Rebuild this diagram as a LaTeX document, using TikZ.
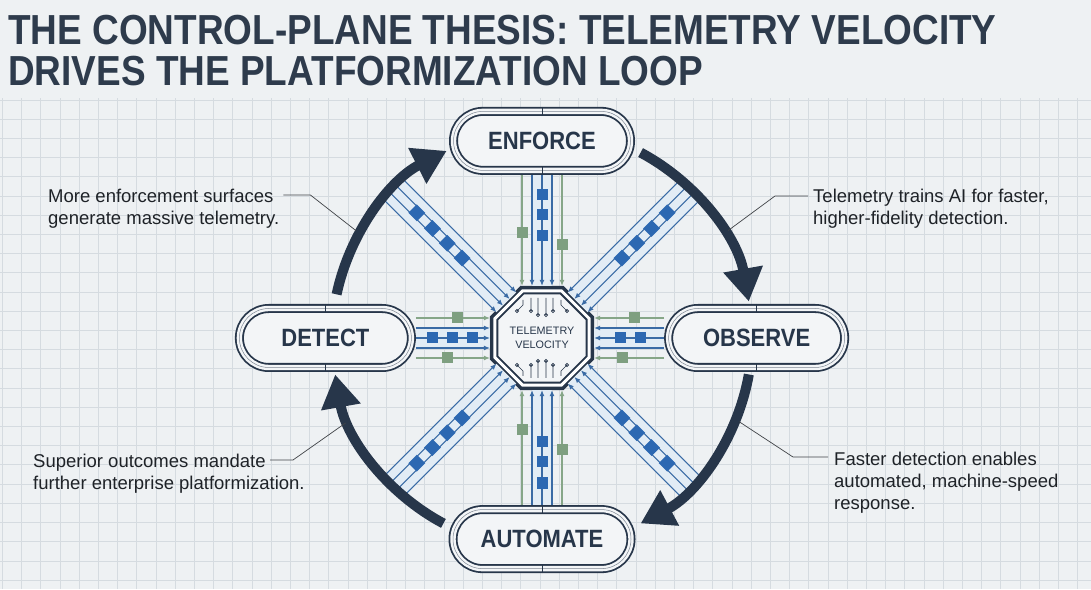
\documentclass[tikz,border=0pt]{standalone}
\usepackage{fontspec}
\setmainfont{Liberation Sans}
\newfontfamily\condfont[FakeStretch=0.88]{Liberation Sans}
\usetikzlibrary{positioning,calc,shapes.misc,shapes.geometric,arrows.meta}

\definecolor{bgcol}{HTML}{EEF1F3}
\definecolor{gridcol}{HTML}{D5DBE0}
\definecolor{ink}{HTML}{27364A}
\definecolor{titlecol}{HTML}{2E3B4C}
\definecolor{txtcol}{HTML}{1E2227}
\definecolor{spokeblue}{HTML}{3A6BA5}
\definecolor{sqblue}{HTML}{2C68B2}
\definecolor{sqgreen}{HTML}{7E9F80}
\definecolor{linegreen}{HTML}{86A688}
\definecolor{bandblue}{HTML}{E2ECF5}
\definecolor{pillfill}{HTML}{F3F5F7}

\begin{document}
\begin{tikzpicture}[x=1pt, y=1pt, >={Latex[length=6pt,width=5pt]},
    every node/.style={font=\fontsize{18.5}{22}\selectfont, text=txtcol},
    pill/.style={rounded rectangle, minimum height=59pt, inner sep=0pt, outer sep=4.5pt,
        draw=ink!60, line width=0.5pt,
        preaction={fill=pillfill},
        preaction={draw=ink, line width=9pt},
        preaction={draw=pillfill, line width=5.4pt},
        text=ink, font=\condfont\bfseries\fontsize{25}{28}\selectfont},
    hubbox/.style={regular polygon, regular polygon sides=8, minimum size=97pt,
        inner sep=1pt, outer sep=5pt, fill=pillfill, draw=ink, line width=2pt,
        double=white, double distance=3pt, preaction={draw=ink, line width=10pt},
        align=center, text=ink, font=\fontsize{10.8}{13.5}\selectfont},
    wire/.style={draw=spokeblue, line width=1.1pt, ->},
    gwire/.style={draw=linegreen, line width=1.1pt, ->},
    band/.style={fill=bandblue},
    bpkt/.style={fill=sqblue},
    gpkt/.style={fill=sqgreen},
    cyclearc/.style={draw=ink, line width=10pt, -{Triangle[length=33pt,width=38pt]}},
    leader/.style={draw=txtcol!85, line width=0.7pt},
    note/.style={align=left, anchor=north west, inner sep=0pt}]

  % Background and grid
  \useasboundingbox (0,0) rectangle (1091,589);
  \fill[bgcol] (0,0) rectangle (1091,589);
  \begin{scope}[shift={(2.3,9)}]
    \draw[gridcol, line width=0.6pt, step=19.2] (-2.3,-9) grid (1088.7,482);
  \end{scope}

  % Title
  \node[anchor=north west, inner sep=0pt, align=left, text=titlecol,
        font=\condfont\bfseries\fontsize{42}{41}\selectfont] (title) at (8,574)
        {THE CONTROL-PLANE THESIS: TELEMETRY VELOCITY\\DRIVES THE PLATFORMIZATION LOOP};

  % Hub
  \node[hubbox] (hub) at (542,251) {TELEMETRY\\VELOCITY};

  % circuit traces inside the hub
  \begin{scope}[shift={(hub.center)}, ink, line width=0.6pt]
    \foreach \s in {1,-1}{
      \foreach \dx/\len in {-11/13, -4/17, 4/17, 11/13}
        \draw (\dx,40*\s) -- (\dx,{(40-\len)*\s}) circle[radius=1.6];
      \draw (-19,38*\s) -- (-19,33*\s) -- (-25,{27*\s}) circle[radius=1.6];
      \draw (19,38*\s) -- (19,33*\s) -- (25,{27*\s}) circle[radius=1.6];
    }
  \end{scope}

  % Diagonal spokes
  \foreach \a in {45,135,225,315}{
    \begin{scope}[shift={(hub.center)}, rotate=\a]
      \fill[band] (212,-14) rectangle (50.5,14);
      \foreach \d in {-14,-4.7,4.7,14}
        \draw[wire] (212,\d) -- (50.5,\d);
      \foreach \r in {113,134,155,177}
        \fill[bpkt] (\r-6,-6) rectangle ++(12,12);
    \end{scope}
  }

  % Cycle arrows
  \foreach \s/\e in {168/117, 62/10, -10/-62, -118/-170}
    \draw[cyclearc] ($(hub.center)+(\s:210pt)$) arc (\s:\e:210pt);

  % Stages
  \node[pill, minimum width=177pt, above=111pt of hub] (enforce) {ENFORCE};
  \node[pill, minimum width=176pt, right=70pt of hub] (observe) {OBSERVE};
  \node[pill, minimum width=178pt, below=115pt of hub] (automate) {AUTOMATE};
  \node[pill, minimum width=172pt, left=74pt of hub] (detect) {DETECT};

  \foreach \p in {enforce,observe,automate,detect}{
    \draw[ink, line width=0.8pt] (\p.north) -- ++(0,-9);
    \draw[ink, line width=0.8pt] (\p.south) -- ++(0,9);
  }

  % Top spoke
  \fill[band] ([xshift=-10]enforce.south) rectangle ([xshift=10]hub.north);
  \foreach \d in {-10,0,10}
    \draw[wire] ([xshift=\d]enforce.south) -- ([xshift=\d]hub.north);
  \foreach \d in {-20,20}
    \draw[gwire] ([xshift=\d]enforce.south) -- ([xshift=\d]hub.north);
  \foreach \y in {394,374,353}
    \fill[bpkt] (542,\y) ++(-5.5,-5.5) rectangle ++(11,11);
  \foreach \x/\y in {522/356, 562/344}
    \fill[gpkt] (\x,\y) ++(-5.5,-5.5) rectangle ++(11,11);

  % Bottom spoke
  \fill[band] ([xshift=-10]automate.north) rectangle ([xshift=10]hub.south);
  \foreach \d in {-10,0,10}
    \draw[wire] ([xshift=\d]automate.north) -- ([xshift=\d]hub.south);
  \foreach \d in {-20,20}
    \draw[gwire] ([xshift=\d]automate.north) -- ([xshift=\d]hub.south);
  \foreach \y in {147,127,106}
    \fill[bpkt] (542,\y) ++(-5.5,-5.5) rectangle ++(11,11);
  \foreach \x/\y in {522/159, 562/139}
    \fill[gpkt] (\x,\y) ++(-5.5,-5.5) rectangle ++(11,11);

  % Left spoke
  \fill[band] ([yshift=-10]detect.east) rectangle ([yshift=10]hub.west);
  \foreach \d in {-10,0,10}
    \draw[wire] ([yshift=\d]detect.east) -- ([yshift=\d]hub.west);
  \foreach \d in {-20,20}
    \draw[gwire] ([yshift=\d]detect.east) -- ([yshift=\d]hub.west);
  \foreach \x in {432,452,472}
    \fill[bpkt] (\x,251) ++(-5.5,-5.5) rectangle ++(11,11);
  \foreach \x/\y in {457/271, 447/231}
    \fill[gpkt] (\x,\y) ++(-5.5,-5.5) rectangle ++(11,11);

  % Right spoke
  \fill[band] ([yshift=-10]observe.west) rectangle ([yshift=10]hub.east);
  \foreach \d in {-10,0,10}
    \draw[wire] ([yshift=\d]observe.west) -- ([yshift=\d]hub.east);
  \foreach \d in {-20,20}
    \draw[gwire] ([yshift=\d]observe.west) -- ([yshift=\d]hub.east);
  \foreach \x in {620,640}
    \fill[bpkt] (\x,251) ++(-5.5,-5.5) rectangle ++(11,11);
  \foreach \x/\y in {634/271, 622/231}
    \fill[gpkt] (\x,\y) ++(-5.5,-5.5) rectangle ++(11,11);

  % Notes
  \node[note] (note1) at (48,400.5) {More enforcement surfaces\\generate massive telemetry.};
  \node[note] (note2) at (813,400.5) {Telemetry trains AI for faster,\\higher-fidelity detection.};
  \node[note] (note3) at (33,135.5) {Superior outcomes mandate\\further enterprise platformization.};
  \node[note] (note4) at (834,137.5) {Faster detection enables\\automated, machine-speed\\response.};

  \coordinate (c1) at ($(hub.center)+(150:215pt)$);
  \coordinate (c2) at ($(hub.center)+(30:215pt)$);
  \coordinate (c3) at ($(hub.center)+(203.4:214pt)$);
  \coordinate (c4) at ($(hub.center)+(-23:214pt)$);

  \draw[leader] ([shift={(4,-6.5)}]note1.north east) -- ++(27,0) -- (c1);
  \draw[leader] ([shift={(-5,-7.5)}]note2.north west) -- ++(-33,0) -- (c2);
  \draw[leader] (note3.north west) ++(237,-6.5) -- ++(23,0) -- (c3);
  \draw[leader] ([shift={(-6,-5.5)}]note4.north west) -- ++(-35,0) -- (c4);
\end{tikzpicture}
\end{document}
